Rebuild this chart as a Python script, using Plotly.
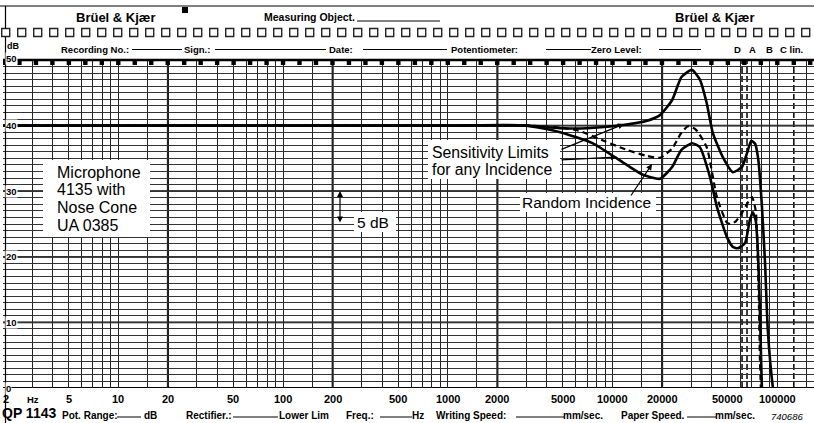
import plotly.graph_objects as go
import math

# ---------------- data ----------------
freq_upper = [2, 1000, 3000, 4800, 7000, 11600, 16000, 19400, 23000, 26200, 30300,
              33900, 37300, 40600, 46700, 53800, 61000, 65500, 69500, 73500, 76500,
              78500, 80700, 84200, 87600, 94100, 97000]
level_upper = [40, 40, 40, 39.6, 39.6, 40.1, 40.7, 41.6, 43.9, 47.4, 48.5,
               47.0, 43.4, 38.9, 35.2, 32.9, 33.7, 35.8, 37.7, 37.2, 35.0,
               32.0, 27.6, 19.2, 8.8, 0.0, -2.0]

freq_lower = [2, 1000, 3000, 4800, 7600, 12200, 15300, 19400, 23000, 26200, 30400,
              33900, 39000, 43000, 49500, 53800, 57700, 63700, 68000, 71000, 74000,
              76500, 78500, 80700, 82000]
level_lower = [40, 40, 40, 39.0, 37.3, 34.0, 32.5, 31.9, 33.7, 36.3, 37.3,
               36.7, 32.2, 27.6, 23.0, 21.5, 21.3, 22.1, 25.5, 26.8, 25.5,
               20.0, 11.4, 0.0, -2.0]

freq_random = [2, 1000, 3000, 4800, 6100, 9000, 12200, 16000, 19400, 23000, 26000,
               28700, 32000, 37300, 43000, 49500, 52000, 56000, 61000, 66000, 70200,
               74000, 77000, 78500, 80000]
level_random = [40, 40, 40, 39.7, 39.3, 37.6, 36.3, 35.4, 35.1, 36.5, 38.8,
                39.9, 39.4, 36.7, 29.1, 25.2, 25.0, 25.4, 26.7, 28.2, 29.1,
                27.0, 15.0, 4.0, -2.0]

freq_tick_values = [2, 5, 10, 20, 50, 100, 200, 500, 1000, 2000, 5000, 10000,
                    20000, 50000, 100000]
freq_tick_labels = ["2", "5", "10", "20", "50", "100", "200", "500", "1000", "2000",
                    "5000", "10000", "20000", "50000", "100000"]
db_tick_values = [0, 10, 20, 30, 40, 50]
db_tick_labels = ["0", "10", "20", "30", "40", "50"]
grid_multiples = [1, 1.5, 2, 3, 4, 5, 6, 7, 8, 9]
grid_decades = [1, 10, 100, 1000, 10000, 100000]
heavy_freqs = [20, 200, 2000, 20000]
weighting_freqs = [61100, 65500, 126000]

# ---------------- geometry helpers ----------------
W_FIG, H_FIG = 814, 423
L, R, T, B = 3, 814, 60, 388
PW, PH = R - L, B - T
X_LO, X_HI = 0.3002, 5.2228
PAD = 3  # annotation inner padding to compensate for left-anchored text


def px(x):
    return (x - L) / PW


def py(y):
    return (B - y) / PH


FONT = "Liberation Sans, Arial, sans-serif"

fig = go.Figure()

line_style = dict(color="black", width=2.6, shape="spline", smoothing=0.55)
fig.add_trace(go.Scatter(x=freq_upper, y=level_upper, mode="lines", line=line_style,
                         hoverinfo="skip"))
fig.add_trace(go.Scatter(x=freq_lower, y=level_lower, mode="lines", line=line_style,
                         hoverinfo="skip"))
fig.add_trace(go.Scatter(x=freq_random, y=level_random, mode="lines",
                         line=dict(color="black", width=2.2, dash="6px,4px",
                                   shape="spline", smoothing=0.55),
                         hoverinfo="skip"))

grid_x = [m * d for d in grid_decades for m in grid_multiples
          if 2 <= m * d <= 10 ** X_HI]

shapes = []
# heavy vertical lines
for f in heavy_freqs:
    shapes.append(dict(type="line", xref="x", yref="paper", x0=f, x1=f, y0=0, y1=1,
                       line=dict(color="black", width=2), layer="below"))
# heavy horizontal lines
for v in db_tick_values:
    shapes.append(dict(type="line", xref="paper", yref="y", x0=0, x1=1, y0=v, y1=v,
                       line=dict(color="black", width=1.8), layer="below"))
# weighting dashed lines
for f in weighting_freqs:
    shapes.append(dict(type="line", xref="x", yref="paper", x0=f, x1=f, y0=0, y1=1,
                       line=dict(color="black", width=1.5, dash="6px,3px"),
                       layer="below"))
# registration marks along top edge (1/3-octave)
n = 3
while 10 ** (n / 10) <= 10 ** X_HI:
    f = 10 ** (n / 10)
    k = 10 ** (2.2 / 164.75)
    shapes.append(dict(type="rect", xref="x", yref="paper", x0=f / k, x1=f * k,
                       y0=py(65), y1=py(60), fillcolor="black",
                       line=dict(width=0), layer="above"))
    n += 1
# top border of plot
shapes.append(dict(type="line", xref="paper", yref="paper", x0=0, x1=1, y0=1, y1=1,
                   line=dict(color="black", width=2.5)))
# paper frame
shapes.append(dict(type="line", xref="paper", yref="paper", x0=px(0), x1=px(814),
                   y0=py(6), y1=py(6), line=dict(color="black", width=1)))
shapes.append(dict(type="line", xref="paper", yref="paper", x0=px(5.5), x1=px(5.5),
                   y0=py(6), y1=py(423), line=dict(color="black", width=1.2)))
# sprocket squares
for i in range(-1, 50):
    cx = 21.7 + 16.0 * i
    shapes.append(dict(type="rect", xref="paper", yref="paper",
                       x0=px(cx - 4), x1=px(cx + 4), y0=py(36.5), y1=py(28.5),
                       line=dict(color="#222", width=1.4), fillcolor="white"))
# small black square in header
shapes.append(dict(type="rect", xref="paper", yref="paper", x0=px(182), x1=px(188),
                   y0=py(13), y1=py(7), fillcolor="black", line=dict(width=0)))
# header underline for Measuring Object
shapes.append(dict(type="line", xref="paper", yref="paper", x0=px(357), x1=px(440),
                   y0=py(21), y1=py(21), line=dict(color="black", width=1)))
# header field lines
for x0, x1 in [(132, 182), (215, 326), (363, 447), (546, 591), (659, 701)]:
    shapes.append(dict(type="line", xref="paper", yref="paper", x0=px(x0), x1=px(x1),
                       y0=py(49.5), y1=py(49.5), line=dict(color="black", width=1)))
# footer field lines
for x0, x1 in [(117, 141), (233, 278), (380, 412), (516, 564), (687, 716)]:
    shapes.append(dict(type="line", xref="paper", yref="paper", x0=px(x0), x1=px(x1),
                       y0=py(417), y1=py(417), line=dict(color="black", width=1)))
# white label boxes
for x0, x1, y0, y1 in [(43, 150, 160, 237), (428, 560, 140, 179),
                       (520, 656, 193, 212), (354, 396, 212, 232)]:
    shapes.append(dict(type="rect", xref="paper", yref="paper", x0=px(x0), x1=px(x1),
                       y0=py(y1), y1=py(y0), fillcolor="white",
                       line=dict(width=0), layer="above"))

ann = []


def text(x, y, s, size=9.5, bold=True, anchor="left", italic=False, bg=None):
    t = s
    if bold:
        t = "<b>" + t + "</b>"
    if italic:
        t = "<i>" + t + "</i>"
    if anchor == "left":
        x = x - PAD
    d = dict(xref="paper", yref="paper", x=px(x), y=py(y), text=t, showarrow=False,
             xanchor=anchor, yanchor="middle",
             font=dict(family=FONT, size=size, color="black"))
    if bg:
        d["bgcolor"] = bg
        d["borderpad"] = 0
    ann.append(d)


# header
text(77, 17, "Brüel & Kjær", size=13)
text(676, 17, "Brüel & Kjær", size=13)
text(265, 17, "Measuring Object.", size=10.5)
text(8, 46, "dB", size=9)
text(62, 49, "Recording No.:", size=9.5)
text(185, 49, "Sign.:", size=9.5)
text(330, 49, "Date:", size=9.5)
text(452, 49, "Potentiometer:", size=9.5)
text(592, 49, "Zero Level:", size=9.5)
text(737, 49, "D", size=9.5, anchor="center")
text(752, 49, "A", size=9.5, anchor="center")
text(769, 49, "B", size=9.5, anchor="center")
text(781, 49, "C lin.", size=9.5)

# y labels
for v, s in zip(db_tick_values, db_tick_labels):
    ypix = B - v * PH / 50
    text(8, ypix - 2 if v == 50 else ypix, s, size=9.5, bg="white")

# frequency labels
for f, s in zip(freq_tick_values, freq_tick_labels):
    lx = L + (math.log10(f) - X_LO) / (X_HI - X_LO) * PW
    if f == 2:
        lx = 6
    text(lx, 399, s, size=11, anchor="center")
text(33, 399, "Hz", size=9.5, anchor="center")

# footer
text(3, 413, "QP 1143", size=14)
text(63, 415, "Pot. Range:", size=10)
text(145, 415, "dB", size=10)
text(187, 415, "Rectifier.:", size=10)
text(280, 415, "Lower Lim", size=10)
text(347, 415, "Freq.:", size=10)
text(413, 415, "Hz", size=10)
text(437, 415, "Writing Speed:", size=10)
text(564, 415, "mm/sec.", size=10)
text(622, 415, "Paper Speed.", size=10)
text(716, 415, "mm/sec.", size=10)
text(772, 416, "740686", size=9.5, bold=False, italic=True)

# in-plot labels
for i, s in enumerate(["Microphone", "4135 with", "Nose Cone", "UA 0385"]):
    text(58, 172 + i * 17.8, s, size=16, bold=False)
text(433, 152, "Sensitivity Limits", size=15.8, bold=False)
text(433, 169.5, "for any Incidence", size=15.8, bold=False)
text(523, 202, "Random Incidence", size=15.5, bold=False)
text(358, 222, "5 dB", size=15.5, bold=False)


def arrow(tx, ty, sx, sy, both=False):
    ann.append(dict(xref="paper", yref="paper", x=px(tx), y=py(ty), ax=sx - tx,
                    ay=sy - ty, axref="pixel", ayref="pixel", text="",
                    showarrow=True, arrowhead=2, arrowsize=1, arrowwidth=1.2,
                    arrowcolor="black", arrowside="end+start" if both else "end",
                    startarrowhead=2))


arrow(340, 191, 340, 224, both=True)
arrow(624, 124, 560, 150)
arrow(617, 157, 560, 160)
arrow(652, 164, 630, 197)

fig.update_layout(
    width=W_FIG, height=H_FIG,
    margin=dict(l=L, r=W_FIG - R, t=T, b=H_FIG - B),
    paper_bgcolor="white", plot_bgcolor="white", showlegend=False,
    shapes=shapes, annotations=ann,
    xaxis=dict(type="log", range=[X_LO, X_HI], tickmode="array", tickvals=grid_x,
               showticklabels=False, ticks="", showgrid=True, gridcolor="#222",
               gridwidth=1, zeroline=False, showline=False),
    yaxis=dict(range=[0, 50], tickmode="array", tickvals=list(range(0, 51)),
               showticklabels=False, ticks="", showgrid=True, gridcolor="#333",
               gridwidth=1, zeroline=False, showline=False),
)

fig.write_html("out.html", config={"displayModeBar": False},
               post_script="document.body.style.margin='0';"
                           "document.body.style.overflow='hidden';")
